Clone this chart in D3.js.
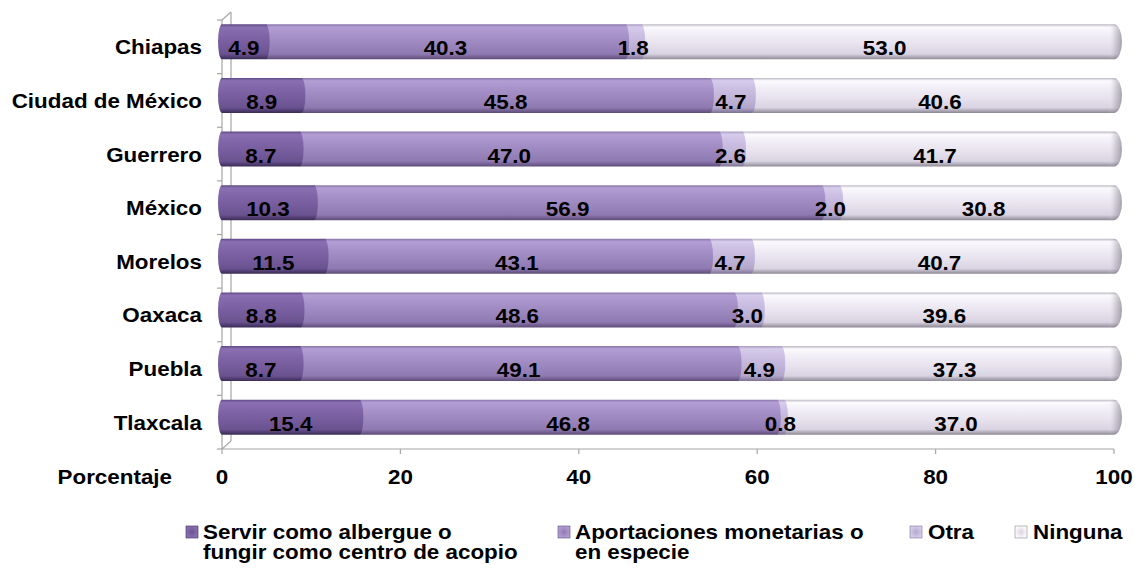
<!DOCTYPE html>
<html>
<head>
<meta charset="utf-8">
<script src="https://cdn.jsdelivr.net/npm/d3@7"></script>
<style>
  html, body { margin: 0; padding: 0; background: #ffffff; }
  svg { display: block; }
  text { font-family: "Liberation Sans", Arial, sans-serif; font-weight: bold; fill: #000; }
</style>
</head>
<body>
<div id="chart"></div>
<script>
// ---- data ----
const categories = ["Chiapas", "Ciudad de México", "Guerrero", "México", "Morelos", "Oaxaca", "Puebla", "Tlaxcala"];
const seriesNames = [
  ["Servir como albergue o", "fungir como centro de acopio"],
  ["Aportaciones monetarias o", "en especie"],
  ["Otra"],
  ["Ninguna"]
];
const albergue     = [4.9, 8.9, 8.7, 10.3, 11.5, 8.8, 8.7, 15.4];
const aportaciones = [40.3, 45.8, 47.0, 56.9, 43.1, 48.6, 49.1, 46.8];
const otra         = [1.8, 4.7, 2.6, 2.0, 4.7, 3.0, 4.9, 0.8];
const ninguna      = [53.0, 40.6, 41.7, 30.8, 40.7, 39.6, 37.3, 37.0];
const xTicks = [0, 20, 40, 60, 80, 100];
const axisTitle = "Porcentaje";

const seriesValues = [albergue, aportaciones, otra, ninguna];

// ---- layout ----
const W = 1135, H = 571;
const SX = 1.12;        // horizontal text stretch
const FS = 20;

const svg = d3.select("#chart").append("svg").attr("width", W).attr("height", H);
const defs = svg.append("defs");

const gradStops = [
  ["#5e4884", "#8a70b2", "#8066a8", "#775d9e", "#6a5290", "#3a2b55"],
  ["#8a76ac", "#b39ed4", "#a892ca", "#9d87bf", "#8f79b1", "#5c4b77"],
  ["#a89cc0", "#d6cceb", "#cbbfe2", "#c2b5da", "#b4a7cc", "#7c7292"],
  ["#bdb8c4", "#fbfafd", "#f1eef6", "#e8e3ee", "#d9d3e2", "#8c8893"]
];
const stopPos = [0, 0.08, 0.3, 0.55, 0.85, 1];
gradStops.forEach((cols, i) => {
  const g = defs.append("linearGradient").attr("id", "g" + i)
    .attr("x1", 0).attr("y1", 0).attr("x2", 0).attr("y2", 1);
  cols.forEach((c, j) => g.append("stop").attr("offset", stopPos[j]).attr("stop-color", c));
  const lg = defs.append("radialGradient").attr("id", "lg" + i);
  lg.append("stop").attr("offset", 0).attr("stop-color", cols[4]);
  lg.append("stop").attr("offset", 1).attr("stop-color", cols[1]);
});
// end-cap shading
const capG = defs.append("linearGradient").attr("id", "cap")
  .attr("x1", 0).attr("y1", 0).attr("x2", 1).attr("y2", 0);
capG.append("stop").attr("offset", 0).attr("stop-color", "#ffffff").attr("stop-opacity", 0);
capG.append("stop").attr("offset", 0.5).attr("stop-color", "#8a8592").attr("stop-opacity", 0.25);
capG.append("stop").attr("offset", 1).attr("stop-color", "#6d6875").attr("stop-opacity", 0.55);

const x = d3.scaleLinear().domain([0, 100]).range([222, 1114]);
const y = d3.scaleBand().domain(categories).range([20, 449]).padding(0);
const barH = 35;
const barTop = c => y(c) + (y.bandwidth() - barH) / 2 - 5;

// ---- 3D wall / axes ----
const axisColor = "#a6a6a6";
const depthX = 9, depthY = 8;
const frame = svg.append("g").attr("stroke", axisColor).attr("fill", "none").attr("stroke-width", 1.2);
frame.append("line").attr("x1", x(0)).attr("x2", x(0)).attr("y1", 20).attr("y2", 449);
frame.append("line").attr("x1", x(0) + depthX).attr("x2", x(0) + depthX).attr("y1", 20 - depthY).attr("y2", 449 - depthY);
frame.append("line").attr("x1", x(0)).attr("x2", x(0) + depthX).attr("y1", 20).attr("y2", 20 - depthY);
frame.append("line").attr("x1", x(0)).attr("x2", x(0) + depthX).attr("y1", 449).attr("y2", 449 - depthY);
// category tick marks
categories.concat([null]).forEach((c) => {
  const yy = c ? y(c) : 449;
  frame.append("line").attr("x1", x(0) - 5).attr("x2", x(0)).attr("y1", yy).attr("y2", yy);
});
// bottom axis
frame.append("line").attr("x1", x(0)).attr("x2", x(100)).attr("y1", 449).attr("y2", 449);
xTicks.forEach(t => {
  frame.append("line").attr("x1", x(t)).attr("x2", x(t)).attr("y1", 449).attr("y2", 454);
});

function stretchedText(g, tx, ty, str, anchor, fs) {
  return g.append("text")
    .attr("transform", `translate(${tx},${ty}) scale(${SX},1)`)
    .attr("text-anchor", anchor)
    .style("font-size", (fs || FS) + "px")
    .text(str);
}

// tick labels
const tickG = svg.append("g");
xTicks.forEach(t => stretchedText(tickG, x(t), 484, String(t), "middle"));
stretchedText(tickG, 172, 484, axisTitle, "end");

// ---- bars ----
const barsG = svg.append("g");
categories.forEach((c, ci) => {
  const top = barTop(c), bot = top + barH, ry = barH / 2;
  let cum = 0;
  const segs = seriesValues.map((arr, si) => {
    const s = { si, x0: cum, x1: cum + arr[ci], v: arr[ci] };
    cum += arr[ci];
    return s;
  });
  // draw in reverse so each segment's rounded end overlaps the next
  segs.slice().reverse().forEach(s => {
    const X0 = x(s.x0), X1 = s.si === 3 ? x(100) : x(s.x1);
    const rxR = s.si === 3 ? 8 : 4;
    let p = `M${X0},${top} L${X1},${top} A${rxR},${ry} 0 0 1 ${X1},${bot} L${X0},${bot}`;
    if (s.si === 0) p += ` A4,${ry} 0 0 1 ${X0},${top}`;
    p += " Z";
    barsG.append("path").attr("d", p).attr("fill", `url(#g${s.si})`);
    if (s.si === 3) {
      const cp = `M${X1 - 6},${top} L${X1},${top} A${rxR},${ry} 0 0 1 ${X1},${bot} L${X1 - 6},${bot} Z`;
      barsG.append("path").attr("d", cp).attr("fill", "url(#cap)");
    }
  });
  // value labels
  segs.forEach(s => {
    const shift = s.si === 3 ? 7 : 0;
    stretchedText(barsG, (x(s.x0) + x(s.x1)) / 2 + shift, top + 31, s.v.toFixed(1), "middle");
  });
  // category label
  stretchedText(barsG, 202, top + 30, c, "end");
});

// ---- legend ----
const legG = svg.append("g");
const legItems = [
  { sx: 186, tx: 203 },
  { sx: 558, tx: 575 },
  { sx: 910, tx: 928 },
  { sx: 1015, tx: 1033 }
];
legItems.forEach((it, i) => {
  legG.append("rect").attr("x", it.sx).attr("y", 526).attr("width", 12).attr("height", 12)
    .attr("fill", `url(#lg${i})`).attr("stroke", gradStops[i][5]).attr("stroke-width", 0.6);
  seriesNames[i].forEach((line, li) => {
    stretchedText(legG, it.tx, 539 + li * 20, line, "start", 20);
  });
});
</script>
</body>
</html>
